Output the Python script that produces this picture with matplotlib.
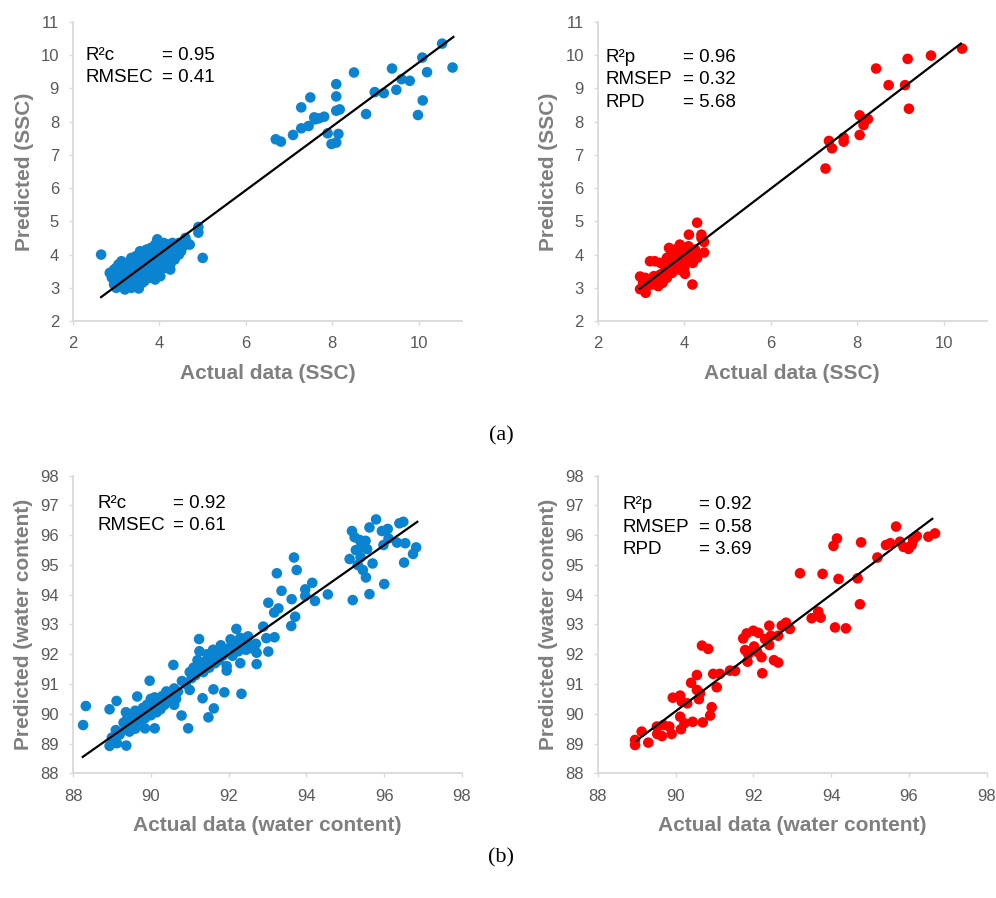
import matplotlib
matplotlib.use("Agg")
import matplotlib.pyplot as plt

# ---- (a) SSC, calibration set ----
ssc_cal_x = [10.54, 10.78, 10.08, 10.19, 9.38, 9.6, 9.79, 9.48, 9.19, 8.98, 10.09, 9.98,
             8.78, 8.5, 8.09, 8.09, 8.17, 8.09, 8.14, 7.89, 7.98, 8.09, 7.49, 7.28, 7.58,
             7.69, 7.81, 7.6, 7.45, 7.28, 7.09, 6.69, 6.81,
             2.85, 2.9, 2.95, 2.95, 3.0, 3.0, 3.05, 3.05, 3.1, 3.1, 3.12, 3.15, 3.15, 3.2,
             3.2, 3.25, 3.25, 3.3, 3.3, 3.35, 3.35, 3.4, 3.4, 3.45, 3.45, 3.5, 3.5, 3.52,
             3.55, 3.55, 3.6, 3.6, 3.65, 3.65, 3.68, 3.7, 3.7, 3.75, 3.75, 3.8, 3.8, 3.82,
             3.85, 3.88, 3.9, 3.9, 3.92, 3.95, 3.95, 4.0, 4.0, 4.02, 4.05, 4.08, 4.1, 4.12,
             4.15, 4.2, 4.2, 4.25, 4.25, 4.3, 4.3, 4.35, 4.4, 4.45, 4.45, 4.5, 4.55, 4.6,
             4.64, 4.7, 4.9, 4.9, 5.0, 2.65, 3.52, 3.3, 3.6, 4.35, 3.0, 3.22, 3.42, 3.78]
ssc_cal_y = [10.35, 9.63, 9.93, 9.49, 9.6, 9.28, 9.23, 8.96, 8.86, 8.89, 8.64, 8.2,
             8.23, 9.48, 9.13, 8.76, 8.37, 8.33, 7.63, 7.65, 7.33, 7.37, 8.73, 8.43, 8.13,
             8.1, 8.15, 8.07, 7.87, 7.8, 7.6, 7.47, 7.4,
             3.45, 3.3, 3.1, 3.55, 3.0, 3.35, 3.2, 3.7, 3.05, 3.45, 3.8, 3.6, 3.3, 2.95,
             3.15, 3.5, 3.75, 3.05, 3.35, 3.0, 3.9, 3.2, 3.6, 3.45, 3.95, 3.3, 3.75, 3.0,
             3.55, 4.1, 3.4, 3.85, 3.2, 4.0, 3.65, 4.15, 3.5, 3.3, 3.9, 4.2, 3.7, 3.45,
             4.05, 3.85, 3.25, 4.3, 3.6, 4.46, 3.95, 3.75, 4.2, 3.35, 4.05, 3.85, 4.35, 3.6,
             4.1, 3.9, 4.3, 3.7, 3.55, 4.15, 4.35, 3.95, 4.2, 4.0, 4.35, 4.1, 4.25, 4.5,
             4.36, 4.3, 4.83, 4.66, 3.9, 4.0, 2.98, 3.78, 3.15, 3.85, 3.6, 3.4, 3.1, 3.3]
ssc_cal_fit_x = [2.65, 10.8]
ssc_cal_fit_y = [2.72, 10.55]

# ---- (a) SSC, prediction set ----
ssc_pred_x = [10.43, 9.71, 9.17, 8.44, 8.73, 9.11, 9.2, 8.06, 8.25, 8.15, 8.06, 7.69,
              7.69, 7.35, 7.42, 7.27,
              2.98, 3.11, 2.98, 3.05, 3.1, 3.15, 3.2, 3.21, 3.25, 3.3, 3.32, 3.35, 3.4,
              3.45, 3.45, 3.5, 3.55, 3.6, 3.6, 3.65, 3.65, 3.7, 3.7, 3.72, 3.75, 3.78,
              3.8, 3.82, 3.85, 3.88, 3.9, 3.9, 3.95, 3.95, 4.0, 4.0, 4.02, 4.05, 4.1,
              4.1, 4.11, 4.15, 4.19, 4.2, 4.25, 4.3, 4.3, 4.4, 4.46, 4.46, 4.4]
ssc_pred_y = [10.2, 9.99, 9.89, 9.6, 9.1, 9.1, 8.39, 8.19, 8.08, 7.9, 7.6, 7.52,
              7.4, 7.42, 7.2, 6.59,
              2.96, 2.85, 3.34, 3.15, 3.3, 3.05, 3.25, 3.8, 3.1, 3.35, 3.8, 3.2, 3.05,
              3.4, 3.75, 3.15, 3.5, 3.3, 3.9, 3.6, 4.2, 3.75, 4.05, 3.45, 3.95, 4.15,
              3.7, 3.85, 4.1, 3.55, 4.3, 3.9, 3.75, 4.05, 3.6, 4.2, 3.42, 3.95, 4.25,
              3.8, 4.6, 4.0, 3.1, 3.75, 4.15, 4.96, 3.9, 4.6, 4.38, 4.06, 4.5]
ssc_pred_fit_x = [2.97, 10.4]
ssc_pred_fit_y = [2.97, 10.35]

# ---- (b) water content, calibration set ----
wc_cal_x = [88.26, 88.33, 88.94, 89.12, 88.94, 89.13, 89.37, 89.36, 89.65, 89.97, 89.85,
            90.1, 90.79, 90.96, 90.58, 91.24, 91.33, 91.48, 91.62, 91.61, 91.89, 92.33,
            92.72, 92.72, 93.02, 93.02, 93.24, 93.36, 93.68, 93.75, 93.17, 93.28, 93.61,
            93.71, 93.62, 93.97, 94.15, 93.97, 94.22, 94.55, 92.89, 92.97, 93.18, 95.19,
            95.11, 95.62, 96.0, 96.51, 96.74, 96.82, 95.79, 95.62, 95.17, 95.24, 95.37,
            95.52, 95.39, 95.27, 95.56, 95.39, 95.32, 95.45, 95.53, 95.7, 95.94, 96.09,
            95.98, 96.11, 96.39, 96.49, 96.33, 96.54,
            89.0, 89.1, 89.2, 89.3, 89.35, 89.4, 89.45, 89.5, 89.55, 89.6, 89.7, 89.75,
            89.8, 89.85, 89.9, 90.0, 90.05, 90.1, 90.15, 90.2, 90.25, 90.3, 90.35, 90.4,
            90.45, 90.5, 90.6, 90.65, 90.7, 90.8, 90.9, 91.0, 91.05, 91.1, 91.15, 91.2,
            91.25, 91.3, 91.35, 91.4, 91.45, 91.5, 91.55, 91.6, 91.65, 91.7, 91.75, 91.8,
            91.85, 91.9, 91.95, 92.0, 92.05, 92.1, 92.15, 92.2, 92.25, 92.3, 92.4, 92.45,
            92.5, 92.55, 92.6, 92.7, 91.95, 92.3, 91.0, 90.6, 90.0, 89.6]
wc_cal_y = [89.62, 90.26, 90.15, 90.43, 88.92, 89.01, 88.93, 90.05, 90.58, 91.11, 89.51,
            89.51, 89.94, 89.51, 91.64, 92.51, 90.52, 89.88, 90.18, 90.82, 90.72, 90.67,
            91.67, 92.05, 92.09, 93.73, 94.72, 94.13, 95.25, 94.83, 93.4, 93.54, 92.95,
            93.26, 93.85, 94.18, 94.4, 93.96, 93.79, 94.01, 92.93, 92.54, 92.57, 93.82,
            95.2, 94.02, 94.36, 95.08, 95.37, 95.59, 96.53, 96.26, 96.14, 95.93, 95.84,
            95.81, 95.58, 95.5, 95.53, 95.26, 95.0, 94.83, 94.58, 95.05, 96.14, 96.21,
            95.67, 95.89, 96.4, 96.45, 95.75, 95.73,
            89.2, 89.45, 89.3, 89.7, 89.5, 89.85, 89.4, 89.6, 89.9, 90.1, 89.75, 90.0,
            90.2, 89.85, 90.3, 89.95, 90.2, 90.55, 90.05, 90.35, 90.15, 90.6, 90.3, 90.75,
            90.45, 90.6, 90.85, 90.5, 90.75, 91.1, 91.0, 91.4, 91.2, 91.55, 91.3, 91.8,
            92.1, 91.6, 91.4, 91.75, 92.0, 91.55, 91.85, 92.15, 91.7, 92.0, 91.8, 92.3,
            91.95, 92.1, 91.6, 92.2, 92.5, 91.95, 92.3, 92.85, 92.1, 92.55, 92.35, 92.15,
            92.6, 92.3, 92.2, 92.35, 91.45, 91.7, 90.8, 90.3, 90.5, 89.5]
wc_cal_fit_x = [88.25, 96.85]
wc_cal_fit_y = [88.55, 96.45]

# ---- (b) water content, prediction set ----
wc_pred_x = [88.96, 88.96, 89.13, 89.3, 89.52, 89.53, 89.65, 89.69, 89.84, 89.9, 89.93,
             90.12, 90.16, 90.12, 90.14, 90.23, 90.3, 90.4, 90.44, 90.55, 90.55, 90.6,
             90.63, 90.68, 90.84, 90.7, 90.89, 90.93, 90.97, 91.06, 91.14, 91.4, 91.53,
             91.74, 91.83, 91.79, 91.85, 91.87, 92.0, 92.02, 92.13, 92.1, 92.21, 92.23,
             92.3, 92.41, 92.41, 92.45, 92.53, 92.64, 92.64, 92.73, 92.84, 92.94, 93.2,
             93.5, 93.67, 93.73, 93.78, 94.1, 94.38, 94.06, 94.15, 94.19, 94.68, 94.74,
             94.77, 95.19, 95.41, 95.52, 95.67, 95.77, 95.86, 95.99, 96.11, 96.2, 96.5,
             96.67, 96.07]
wc_pred_y = [88.95, 89.12, 89.4, 89.03, 89.57, 89.32, 89.25, 89.62, 89.57, 89.32, 90.54,
             90.61, 90.41, 89.9, 89.48, 89.68, 90.35, 91.04, 89.73, 91.3, 90.8, 90.49,
             90.69, 92.29, 92.18, 89.71, 89.94, 90.22, 91.34, 90.89, 91.34, 91.45, 91.44,
             92.53, 92.7, 92.14, 91.75, 92.0, 92.79, 92.26, 92.72, 92.08, 91.9, 91.36,
             92.51, 92.96, 92.31, 92.62, 91.8, 91.72, 92.62, 92.96, 93.06, 92.85, 94.72,
             93.21, 93.43, 93.23, 94.7, 92.9, 92.87, 95.64, 95.89, 94.53, 94.55, 93.68,
             95.76, 95.25, 95.67, 95.73, 96.29, 95.78, 95.61, 95.54, 95.84, 95.97, 95.95,
             96.06, 95.67]
wc_pred_fit_x = [89.0, 96.6]
wc_pred_fit_y = [89.1, 96.55]

stats_labels_cal = ["R\u00b2c", "RMSEC"]
stats_values_ssc_cal = ["= 0.95", "= 0.41"]
stats_values_wc_cal = ["= 0.92", "= 0.61"]
stats_labels_pred = ["R\u00b2p", "RMSEP", "RPD"]
stats_values_ssc_pred = ["= 0.96", "= 0.32", "= 5.68"]
stats_values_wc_pred = ["= 0.92", "= 0.58", "= 3.69"]

BLUE = "#0A84D0"
RED = "#FF0000"
TICK_GRAY = "#595959"
LABEL_GRAY = "#7F7F7F"
AXIS_GRAY = "#D9D9D9"

plt.rcParams["font.family"] = ["Liberation Sans", "DejaVu Sans"]

fig = plt.figure(figsize=(9.96, 8.98), dpi=100)


def make_panel(rect, xs, ys, fit_x, fit_y, color, lims, xticks, yticks,
               xlabel, ylabel, names, values, text_x, text_y, line_step):
    ax = fig.add_axes(rect)
    ax.scatter(xs, ys, s=58, color=color, edgecolors="none", zorder=2)
    ax.plot(fit_x, fit_y, color="black", lw=1.6, zorder=3)
    ax.set_xlim(lims[0], lims[1])
    ax.set_ylim(lims[2], lims[3])
    ax.set_xticks(xticks)
    ax.set_yticks(yticks)
    for side in ["top", "right"]:
        ax.spines[side].set_visible(False)
    for side in ["left", "bottom"]:
        ax.spines[side].set_color(AXIS_GRAY)
        ax.spines[side].set_linewidth(1.3)
    ax.tick_params(axis="both", colors=AXIS_GRAY, labelcolor=TICK_GRAY,
                   labelsize=12, length=3, width=1)
    ax.tick_params(axis="x", pad=8)
    ax.tick_params(axis="y", pad=7)
    ax.set_xlabel(xlabel, fontsize=15, fontweight="bold", color=LABEL_GRAY, labelpad=9)
    ax.set_ylabel(ylabel, fontsize=15, fontweight="bold", color=LABEL_GRAY, labelpad=5)
    for i in range(len(names)):
        yy = text_y - i * line_step
        ax.text(text_x[0], yy, names[i], transform=ax.transAxes, fontsize=13.5,
                va="baseline", ha="left", color="black")
        ax.text(text_x[1], yy, values[i], transform=ax.transAxes, fontsize=13.5,
                va="baseline", ha="left", color="black")
    return ax


make_panel([0.0733, 0.6425, 0.3906, 0.333], ssc_cal_x, ssc_cal_y,
           ssc_cal_fit_x, ssc_cal_fit_y, BLUE, (2, 11, 2, 11),
           [2, 4, 6, 8, 10], range(2, 12), "Actual data (SSC)", "Predicted (SSC)",
           stats_labels_cal, stats_values_ssc_cal, (0.033, 0.229), 0.873, 0.074)
make_panel([0.6001, 0.6425, 0.3906, 0.333], ssc_pred_x, ssc_pred_y,
           ssc_pred_fit_x, ssc_pred_fit_y, RED, (2, 11, 2, 11),
           [2, 4, 6, 8, 10], range(2, 12), "Actual data (SSC)", "Predicted (SSC)",
           stats_labels_pred, stats_values_ssc_pred, (0.021, 0.219), 0.866, 0.075)
make_panel([0.0733, 0.1389, 0.3906, 0.3314], wc_cal_x, wc_cal_y,
           wc_cal_fit_x, wc_cal_fit_y, BLUE, (88, 98, 88, 98),
           range(88, 99, 2), range(88, 99), "Actual data (water content)",
           "Predicted (water content)",
           stats_labels_cal, stats_values_wc_cal, (0.064, 0.257), 0.891, 0.074)
make_panel([0.6001, 0.1389, 0.3906, 0.3314], wc_pred_x, wc_pred_y,
           wc_pred_fit_x, wc_pred_fit_y, RED, (88, 98, 88, 98),
           range(88, 99, 2), range(88, 99), "Actual data (water content)",
           "Predicted (water content)",
           stats_labels_pred, stats_values_wc_pred, (0.065, 0.26), 0.888, 0.076)

fig.text(0.503, 1 - 436 / 898, "(a)", family="Liberation Serif", fontsize=16,
         ha="center", va="center", color="black")
fig.text(0.503, 1 - 858 / 898, "(b)", family="Liberation Serif", fontsize=16,
         ha="center", va="center", color="black")

fig.savefig("out.png", dpi=100)
